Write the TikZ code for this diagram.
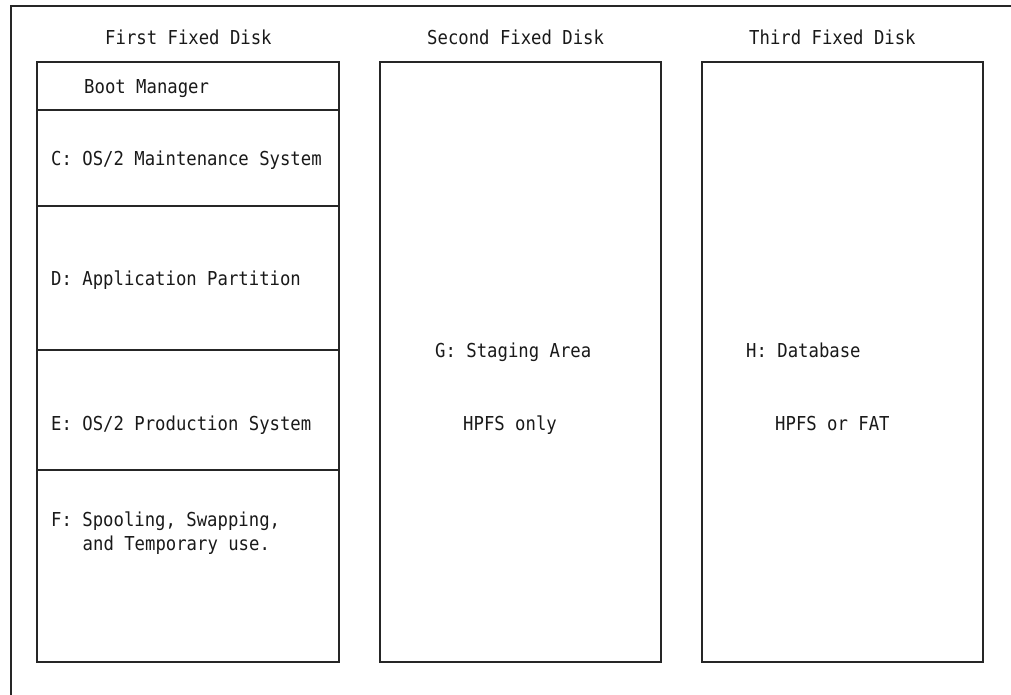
\documentclass[tikz,border=0pt]{standalone}
\usepackage{fontspec}
\newfontfamily\monofont[FakeStretch=0.9]{DejaVu Sans Mono}
\begin{document}
\begin{tikzpicture}[x=1pt,y=-1pt,
  part/.style={draw=black!85, line width=1.2pt, inner sep=0pt, outer sep=0pt, anchor=north west},
  lbl/.style={font=\monofont\fontsize{19.2}{22}\selectfont, anchor=base west, inner sep=0pt, text=black!90}]
\useasboundingbox (0,0) rectangle (1011,695);
% outer frame (cut off at right and bottom)
\coordinate (fb) at (11,695);
\coordinate (ftl) at (11,6);
\coordinate (fr) at (1011,6);
\draw[line width=1.3pt, black!85] (fb) -- (ftl) -- (fr);
% first disk partitions
\node[part, minimum width=302pt, minimum height=48pt]  (boot) at (37,62) {};
\node[part, minimum width=302pt, minimum height=96pt]  (pc)   at (37,110) {};
\node[part, minimum width=302pt, minimum height=144pt] (pd)   at (37,206) {};
\node[part, minimum width=302pt, minimum height=120pt] (pe)   at (37,350) {};
\node[part, minimum width=302pt, minimum height=192pt] (pf)   at (37,470) {};
% second and third disks
\node[part, minimum width=281pt, minimum height=600pt] (disk2) at (380,62) {};
\node[part, minimum width=281pt, minimum height=600pt] (disk3) at (702,62) {};
% titles
\node[lbl] (t1) at (105,45) {First Fixed Disk};
\node[lbl] (t2) at (427,45) {Second Fixed Disk};
\node[lbl] (t3) at (749,45) {Third Fixed Disk};
% first disk labels
\node[lbl] (lboot) at (84,94) {Boot Manager};
\node[lbl] (lc) at (51,166) {C: OS/2 Maintenance System};
\node[lbl] (ld) at (51,285) {D: Application Partition};
\node[lbl] (le) at (51,430) {E: OS/2 Production System};
\node[lbl] (lf1) at (51,526) {F: Spooling, Swapping,};
\node[lbl] (lf2) at (82.5,550) {and Temporary use.};
% second disk labels
\node[lbl] (lg) at (435,357.5) {G: Staging Area};
\node[lbl] (lg2) at (463,430) {HPFS only};
% third disk labels
\node[lbl] (lh) at (746,357.5) {H: Database};
\node[lbl] (lh2) at (775,430) {HPFS or FAT};
\end{tikzpicture}
\end{document}
